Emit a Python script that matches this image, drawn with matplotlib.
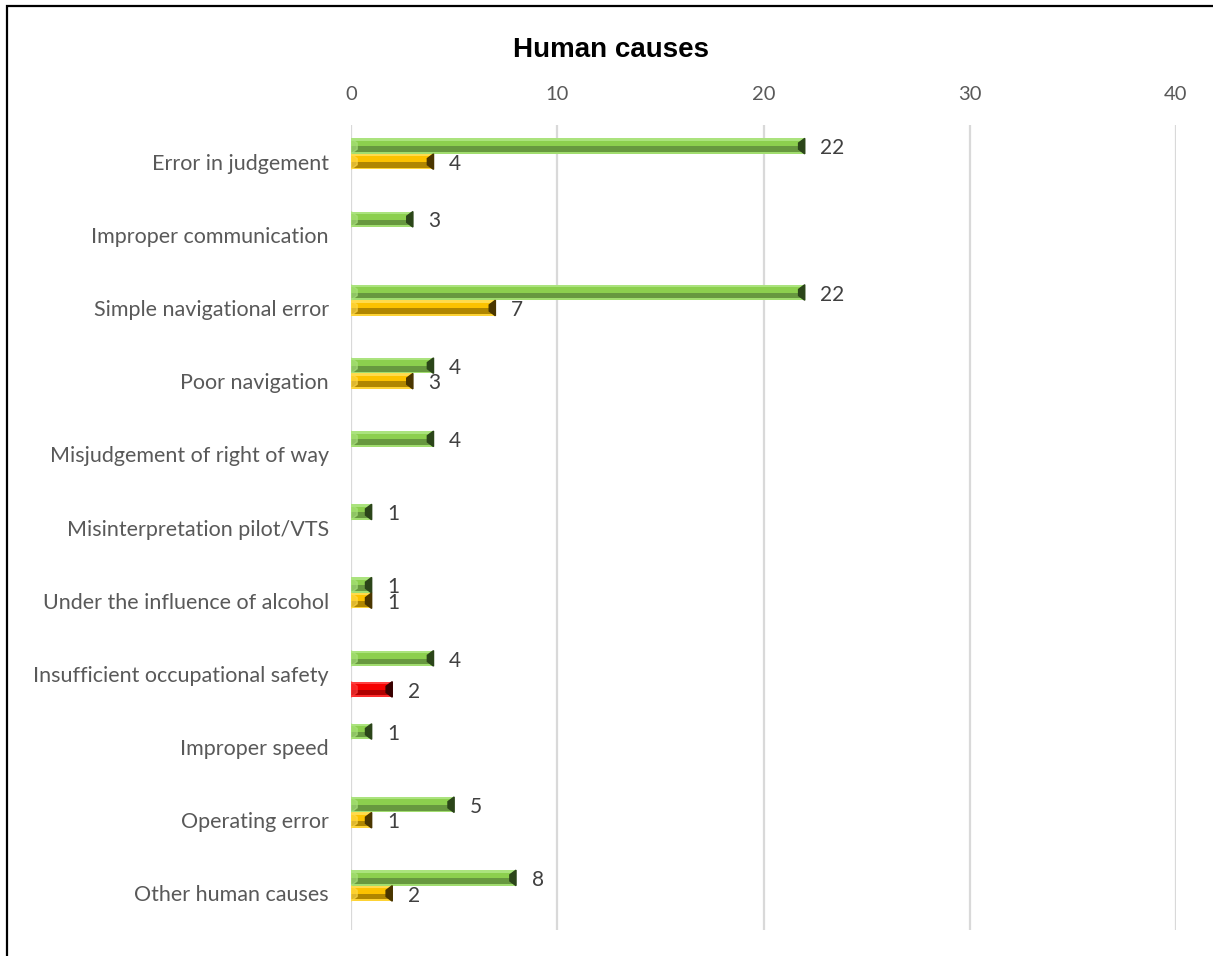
import matplotlib
matplotlib.use("Agg")
import matplotlib.pyplot as plt
from matplotlib.patches import Polygon, Rectangle
import numpy as np

categories = [
    "Error in judgement",
    "Improper communication",
    "Simple navigational error",
    "Poor navigation",
    "Misjudgement of right of way",
    "Misinterpretation pilot/VTS",
    "Under the influence of alcohol",
    "Insufficient occupational safety",
    "Improper speed",
    "Operating error",
    "Other human causes",
]
green_vals = [22, 3, 22, 4, 4, 1, 1, 4, 1, 5, 8]
yellow_vals = [4, 0, 7, 3, 0, 0, 1, 0, 0, 1, 2]
red_vals = [0, 0, 0, 0, 0, 0, 0, 2, 0, 0, 0]
x_ticks = [0, 10, 20, 30, 40]

# light, mid, dark band, end cap
GREEN = ("#abe37e", "#8ccf4e", "#67983f", "#2b4519")
YELLOW = ("#ffdb4d", "#fcc200", "#b08600", "#4a3600")
RED = ("#ff4040", "#f50000", "#b00000", "#380000")

FONT = "Lato"
SLOT = 0.212


def bevel_bars(ax, ys, vals, cols):
    light, mid, dark, cap = cols
    h = SLOT
    for y, v in zip(ys, vals):
        if v <= 0:
            continue
        top = y - h / 2
        # body with a highlight on top and a shaded band below
        ax.barh(y, v, height=h, color=mid, zorder=3)
        ax.barh(top + h * 0.08, v, height=h * 0.16, color=light, zorder=4)
        ax.barh(top + h * 0.70, v, height=h * 0.36, color=dark, zorder=4)
        ax.barh(top + h * 0.94, v, height=h * 0.12, color=light, alpha=0.7, zorder=4)
        # bevelled end caps
        d = 0.3
        ins = h * 0.3
        ax.add_patch(Polygon([(v - d, top + ins), (v, top), (v, top + h),
                              (v - d, top + h - ins)], closed=True,
                             color=cap, zorder=5))
        ax.add_patch(Polygon([(0, top), (d, top + ins), (d, top + h - ins),
                              (0, top + h)], closed=True,
                             color=light, alpha=0.6, zorder=5))
        ax.text(v + 0.75, y + 0.03, str(v), va="center", ha="left",
                fontsize=15, color="#404040", family=FONT, zorder=6)


fig = plt.figure(figsize=(12.13, 9.56), dpi=100)
ax = fig.add_axes([0.2894, 0.0272, 0.6801, 0.842])

pos = np.arange(len(categories))
bevel_bars(ax, pos - SLOT, green_vals, GREEN)
bevel_bars(ax, pos, yellow_vals, YELLOW)
bevel_bars(ax, pos + SLOT, red_vals, RED)

ax.set_xlim(0, 40)
ax.set_ylim(len(categories) - 0.5, -0.5)
ax.set_xticks(x_ticks)
ax.xaxis.tick_top()
ax.tick_params(axis="x", length=0, pad=16, labelsize=14.5, labelcolor="#595959")
ax.tick_params(axis="y", length=0, pad=16, labelsize=15.5, labelcolor="#595959")
for lab in ax.get_xticklabels() + ax.get_yticklabels():
    lab.set_family(FONT)
ax.set_yticks(pos)
ax.set_yticklabels(categories)
ax.grid(axis="x", color="#d9d9d9", linewidth=1.6, zorder=0)
ax.set_axisbelow(True)
for s in ax.spines.values():
    s.set_visible(False)

fig.text(0.504, 0.948, "Human causes", ha="center", va="center",
         fontsize=20, fontweight="bold", family="Liberation Sans")

# outer frame
fig.patches.append(Rectangle((0.0055, -0.1), 1.2, 1.0935, transform=fig.transFigure,
                             fill=False, edgecolor="black", linewidth=1.6))

fig.savefig("out.png", dpi=100)
